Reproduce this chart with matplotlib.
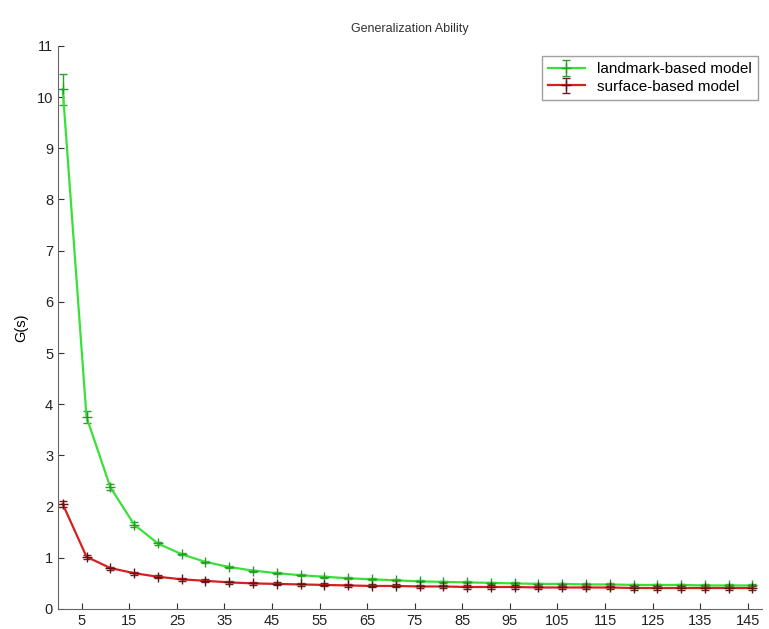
import matplotlib
matplotlib.use("Agg")
import matplotlib.pyplot as plt

plt.rcParams['font.family'] = ['Liberation Sans', 'DejaVu Sans']

# sample sizes (x positions of points)
s_values = [1, 6, 11, 16, 21, 26, 31, 36, 41, 46, 51, 56, 61, 66, 71,
            76, 81, 86, 91, 96, 101, 106, 111, 116, 121, 126, 131, 136, 141, 146]

landmark_g = [10.15, 3.75, 2.38, 1.65, 1.28, 1.07, 0.92, 0.82, 0.75, 0.70,
              0.66, 0.63, 0.60, 0.58, 0.56, 0.54, 0.53, 0.52, 0.51, 0.50,
              0.49, 0.49, 0.48, 0.48, 0.47, 0.47, 0.47, 0.46, 0.46, 0.46]
landmark_err = [0.3, 0.12, 0.06, 0.04, 0.03, 0.02, 0.02, 0.02, 0.02, 0.02,
                0.02, 0.02, 0.02, 0.02, 0.02, 0.02, 0.02, 0.02, 0.02, 0.02,
                0.02, 0.02, 0.02, 0.02, 0.02, 0.02, 0.02, 0.02, 0.02, 0.02]

surface_g = [2.05, 1.02, 0.80, 0.70, 0.63, 0.58, 0.55, 0.52, 0.50, 0.49,
             0.48, 0.47, 0.46, 0.45, 0.45, 0.44, 0.44, 0.43, 0.43, 0.43,
             0.42, 0.42, 0.42, 0.42, 0.41, 0.41, 0.41, 0.41, 0.41, 0.41]
surface_err = [0.06, 0.04, 0.03, 0.03, 0.03, 0.03, 0.03, 0.03, 0.03, 0.03,
               0.03, 0.03, 0.03, 0.03, 0.03, 0.03, 0.03, 0.03, 0.03, 0.03,
               0.03, 0.03, 0.03, 0.03, 0.03, 0.03, 0.03, 0.03, 0.03, 0.03]

xtick_vals = list(range(5, 150, 10))
ytick_vals = list(range(0, 12))

fig = plt.figure(figsize=(7.69, 6.29), dpi=100)
ax = fig.add_axes([0.0754, 0.0318, 0.9155, 0.8952])

ax.errorbar(s_values, landmark_g, yerr=landmark_err, color='#3ae03a', lw=1.6,
            marker='+', ms=7, mew=1.0, mec='#2a9a2a', capsize=3, elinewidth=1.0,
            ecolor='#2aa02a', label='landmark-based model')
ax.errorbar(s_values, surface_g, yerr=surface_err, color='#d42020', lw=1.6,
            marker='+', ms=7, mew=1.0, mec='#661111', capsize=3, elinewidth=1.0,
            ecolor='#662222', label='surface-based model')

ax.set_xlim(0, 148)
ax.set_ylim(0, 11)
ax.set_xticks(xtick_vals)
ax.set_yticks(ytick_vals)
ax.tick_params(direction='in', labelsize=10.5, length=4, colors='#333333',
               labelcolor='#222222')
for side in ['top', 'right']:
    ax.spines[side].set_visible(False)
for side in ['left', 'bottom']:
    ax.spines[side].set_color('#666666')

ax.set_ylabel('G(s)', fontsize=10.5, labelpad=6)
ax.set_title('Generalization Ability', fontsize=9, pad=10, color='#333333')

leg = ax.legend(loc='upper right', bbox_to_anchor=(1.005, 0.995), fontsize=11,
                frameon=True, fancybox=False, edgecolor='#888888',
                handlelength=2.4, borderpad=0.4, labelspacing=0.2)

fig.savefig('out.png', dpi=100)
